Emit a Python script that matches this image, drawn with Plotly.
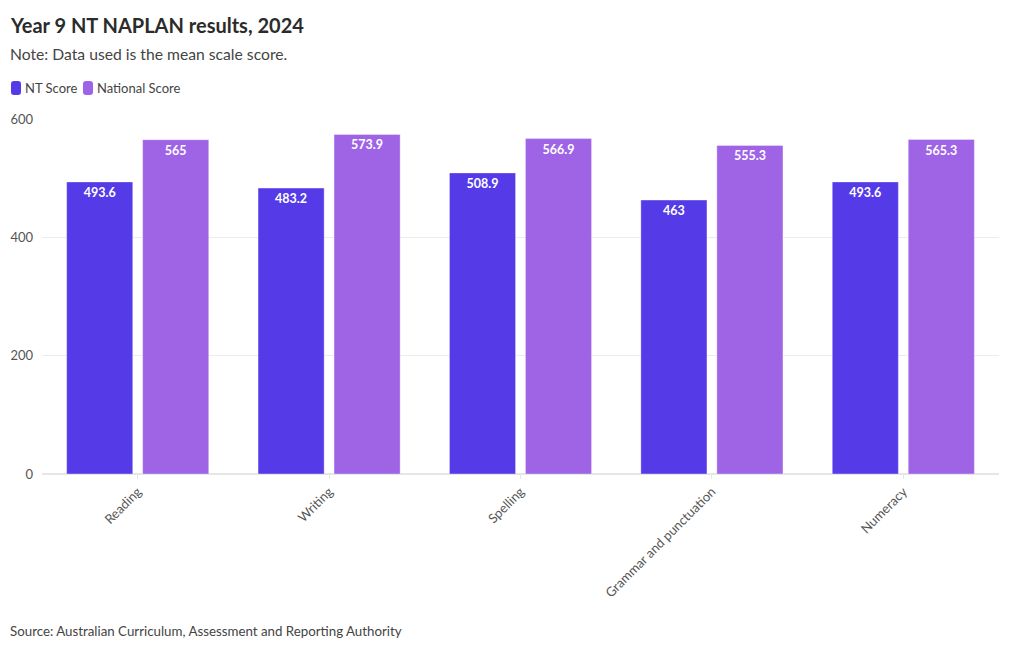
import plotly.graph_objects as go

categories = ["Reading", "Writing", "Spelling", "Grammar and punctuation", "Numeracy"]
nt_score = [493.6, 483.2, 508.9, 463, 493.6]
national_score = [565, 573.9, 566.9, 555.3, 565.3]
y_ticks = [0, 200, 400, 600]

FONT = "Lato"
NT_COLOR = "#553be8"
NAT_COLOR = "#9f63e6"

# page is offset by 8px body margin
W, H = 1012, 642
L, R, T, B = 34, 21, 111, 176
PW, PH = W - L - R, H - T - B


def px_x(page_x):
    return (page_x - 8 - L) / PW


def px_y(page_y):
    return 1 - (page_y - 8 - T) / PH


fig = go.Figure()
fig.add_trace(go.Bar(
    x=categories, y=nt_score, name="NT Score",
    marker=dict(color=NT_COLOR, line=dict(color="rgba(255,255,255,0.6)", width=0.6)),
    text=[f"{v:g}" for v in nt_score], textposition="inside", insidetextanchor="end",
    textfont=dict(color="white", size=12.5, family=FONT, weight="bold"),
    textangle=0,
))
fig.add_trace(go.Bar(
    x=categories, y=national_score, name="National Score",
    marker=dict(color=NAT_COLOR, line=dict(color="rgba(255,255,255,0.6)", width=0.6)),
    text=[f"{v:g}" for v in national_score], textposition="inside", insidetextanchor="end",
    textfont=dict(color="white", size=12.5, family=FONT, weight="bold"),
    textangle=0,
))

fig.update_layout(
    width=W, height=H,
    paper_bgcolor="white", plot_bgcolor="white",
    margin=dict(l=L, r=R, t=T, b=B, autoexpand=False),
    font=dict(family=FONT, color="#555"),
    barmode="group", bargap=0.206, bargroupgap=0.13,
    showlegend=False,
)

fig.update_yaxes(range=[0, 600], tickvals=y_ticks, showgrid=True, gridcolor="#ececec",
                 zeroline=True, zerolinecolor="#e6e6e6", showline=False, automargin=False,
                 tickfont=dict(size=13, color="#555"), ticks="", ticklabelstandoff=8)
fig.update_xaxes(tickangle=-45, tickfont=dict(size=13, color="#555"), ticks="outside",
                 tickcolor="#e6e6e6", ticklen=4, showline=False, automargin=False)

fig.add_annotation(text="<b>Year 9 NT NAPLAN results, 2024</b>", xref="paper", yref="paper",
                   x=px_x(8), y=px_y(25), yanchor="middle", xanchor="left", showarrow=False,
                   font=dict(size=20, color="#2b2b2b", family=FONT))
fig.add_annotation(text="Note: Data used is the mean scale score.", xref="paper", yref="paper",
                   x=px_x(8), y=px_y(54), xanchor="left", yanchor="middle", showarrow=False,
                   font=dict(size=15.7, color="#444", family=FONT))
fig.add_annotation(text="Source: Australian Curriculum, Assessment and Reporting Authority",
                   xref="paper", yref="paper", x=px_x(8), y=px_y(631), xanchor="left",
                   yanchor="middle", showarrow=False,
                   font=dict(size=13.3, color="#444", family=FONT))

# legend: rounded swatches + labels
legend_items = [("NT Score", NT_COLOR, 11), ("National Score", NAT_COLOR, 83)]


def rounded_rect(w, h, r):
    return (f"M {r},0 L {w-r},0 Q {w},0 {w},{r} L {w},{h-r} Q {w},{h} {w-r},{h} "
            f"L {r},{h} Q 0,{h} 0,{h-r} L 0,{r} Q 0,0 {r},0 Z")


for label, color, xpos in legend_items:
    fig.add_shape(type="path", xref="paper", yref="paper", xsizemode="pixel", ysizemode="pixel",
                  xanchor=px_x(xpos), yanchor=px_y(95), path=rounded_rect(10, 14, 3),
                  fillcolor=color, line=dict(width=0))
    fig.add_annotation(text=label, xref="paper", yref="paper", x=px_x(xpos + 12), y=px_y(88),
                       xanchor="left", yanchor="middle", showarrow=False,
                       font=dict(size=13, color="#444", family=FONT))

fig.write_html("out.html")
